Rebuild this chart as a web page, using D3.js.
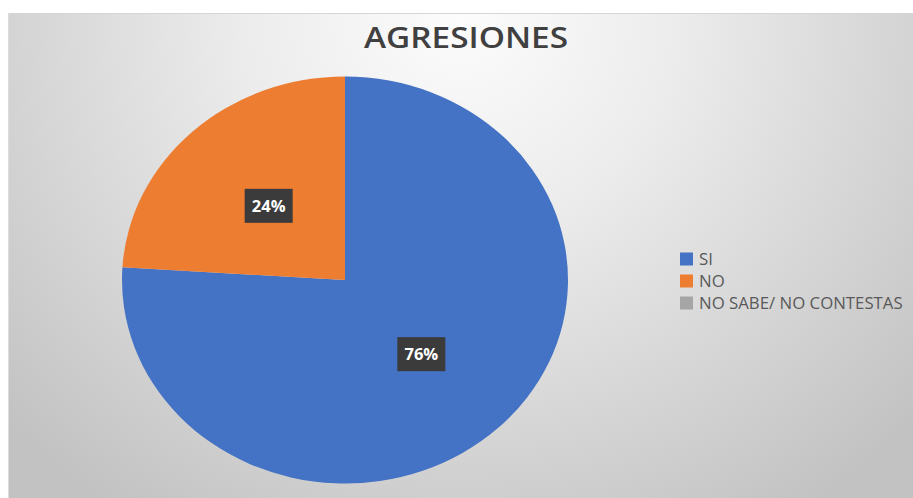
<!DOCTYPE html>
<html>
<head>
<meta charset="utf-8">
<script src="https://cdn.jsdelivr.net/npm/d3@7"></script>
<style>
  html, body { margin: 0; padding: 0; background: #ffffff; }
  svg { display: block; }
</style>
</head>
<body>
<svg id="chart" width="913" height="498"></svg>
<script>
const title = "AGRESIONES";
const categories = ["SI", "NO", "NO SABE/ NO CONTESTAS"];
const values = [76, 24, 0];
const colors = ["#4472C4", "#ED7D31", "#A5A5A5"];

const W = 913, H = 498;
const svg = d3.select("#chart");

// background
const defs = svg.append("defs");
const grad = defs.append("radialGradient")
  .attr("id", "bg").attr("gradientUnits", "userSpaceOnUse")
  .attr("cx", 460).attr("cy", 20).attr("r", 620)
  .attr("gradientTransform", "translate(460,20) scale(1,0.95) translate(-460,-20)");
grad.append("stop").attr("offset", 0).attr("stop-color", "#fcfcfc");
grad.append("stop").attr("offset", 0.35).attr("stop-color", "#ececec");
grad.append("stop").attr("offset", 1).attr("stop-color", "#c2c2c2");

svg.append("rect").attr("x", 8).attr("y", 13).attr("width", W - 8).attr("height", H - 13)
  .attr("fill", "url(#bg)");
svg.append("line").attr("x1", 8).attr("x2", W).attr("y1", 13.5).attr("y2", 13.5)
  .attr("stroke", "#d6d6d6").attr("stroke-width", 1);
svg.append("line").attr("x1", 8.5).attr("x2", 8.5).attr("y1", 13).attr("y2", H)
  .attr("stroke", "#dcdcdc").attr("stroke-width", 1);

// title
svg.append("text")
  .attr("x", 466).attr("y", 48)
  .attr("text-anchor", "middle")
  .attr("font-family", "'Open Sans', sans-serif")
  .attr("font-weight", 600)
  .attr("font-size", 29)
  .attr("fill", "#404040")
  .attr("textLength", 204)
  .attr("lengthAdjust", "spacingAndGlyphs")
  .text(title);

// pie (elliptical, as in the reference)
const cx = 345, cy = 280, rx = 223, ry = 203.5;
const data = categories.map((c, i) => ({ cat: c, value: values[i], color: colors[i] }));
const pie = d3.pie().sort(null).value(d => d.value);
const arcs = pie(data);
const arc = d3.arc().innerRadius(0).outerRadius(rx);
const labelArc = d3.arc().innerRadius(0).outerRadius(rx);

const g = svg.append("g").attr("transform", `translate(${cx},${cy}) scale(1,${ry / rx})`);
g.selectAll("path").data(arcs.filter(d => d.value > 0)).join("path")
  .attr("d", arc)
  .attr("fill", d => d.data.color);

// data labels
const total = d3.sum(values);
const lg = svg.append("g").attr("transform", `translate(${cx},${cy})`);
const lab = lg.selectAll("g.lab").data(arcs.filter(d => d.value > 0)).join("g")
  .attr("class", "lab")
  .attr("transform", d => {
    const c = labelArc.centroid(d);
    return `translate(${c[0]},${c[1] * ry / rx})`;
  });
lab.append("rect")
  .attr("x", -24).attr("y", -17).attr("width", 48).attr("height", 34)
  .attr("fill", "#3b3b3b");
lab.append("text")
  .attr("text-anchor", "middle").attr("dy", "0.36em")
  .attr("font-family", "'Open Sans', sans-serif")
  .attr("font-weight", 700)
  .attr("font-size", 16.5)
  .attr("fill", "#ffffff")
  .text(d => Math.round(d.value / total * 100) + "%");

// legend
const legend = svg.append("g").attr("transform", "translate(680,259)");
const item = legend.selectAll("g").data(data).join("g")
  .attr("transform", (d, i) => `translate(0,${i * 22})`);
item.append("rect").attr("x", 0).attr("y", -6.5).attr("width", 13).attr("height", 13)
  .attr("fill", d => d.color);
item.append("text")
  .attr("x", 19).attr("dy", "0.36em")
  .attr("font-family", "'Open Sans', sans-serif")
  .attr("font-size", 16.8)
  .attr("fill", "#595959")
  .text(d => d.cat);
</script>
</body>
</html>
